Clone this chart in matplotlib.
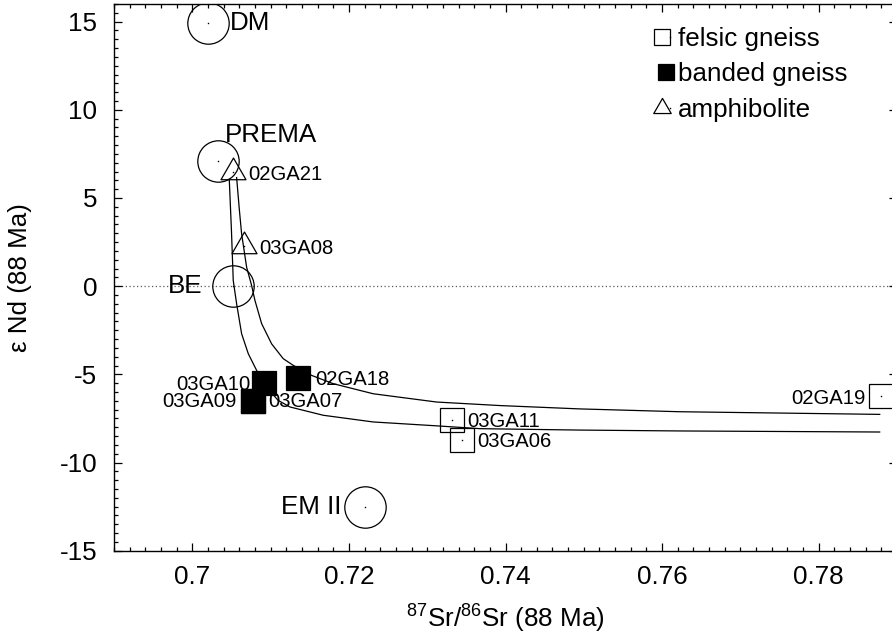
import matplotlib
matplotlib.use("Agg")
import matplotlib.pyplot as plt
from matplotlib.path import Path
from matplotlib.legend_handler import HandlerTuple
from matplotlib.ticker import MultipleLocator

plt.rcParams["font.family"] = ["Liberation Sans", "DejaVu Sans"]
plt.rcParams["mathtext.fontset"] = "custom"
plt.rcParams["mathtext.rm"] = "Liberation Sans"
plt.rcParams["mathtext.it"] = "Liberation Sans:italic"
plt.rcParams["axes.unicode_minus"] = False

# ---- data -------------------------------------------------------------
reservoir_names = ["DM", "PREMA", "BE", "EM II"]
reservoir_sr = [0.7020, 0.7033, 0.7052, 0.7220]
reservoir_nd = [14.9, 7.1, 0.0, -12.5]

felsic_names = ["03GA11", "03GA06", "02GA19"]
felsic_sr = [0.7332, 0.7344, 0.7880]
felsic_nd = [-7.6, -8.7, -6.25]

banded_names = ["03GA10", "02GA18", "03GA09", "03GA07"]
banded_sr = [0.7091, 0.7135, 0.7077, 0.7078]
banded_nd = [-5.5, -5.2, -6.5, -6.5]

amph_names = ["02GA21", "03GA08"]
amph_sr = [0.7052, 0.7066]
amph_nd = [6.5, 2.25]

# mixing curves
mixA_sr = [0.70566, 0.70602, 0.70630, 0.70694, 0.70758, 0.70800, 0.70886,
           0.71013, 0.71161, 0.71289, 0.71524, 0.71800, 0.72310, 0.73120,
           0.73928, 0.74949, 0.76226, 0.78779]
mixA_nd = [6.16, 4.28, 2.96, 1.07, 0.03, -0.81, -2.13,
           -3.27, -4.11, -4.49, -5.06, -5.53, -6.10, -6.57,
           -6.77, -6.96, -7.12, -7.27]
mixB_sr = [0.70472, 0.70500, 0.70523, 0.70566, 0.70630, 0.70715, 0.70822,
           0.70886, 0.70966, 0.71094, 0.71247, 0.71672, 0.72310, 0.73120,
           0.73673, 0.74949, 0.76226, 0.78779]
mixB_nd = [6.07, 3.15, 0.32, -1.00, -2.70, -3.83, -4.78,
           -5.25, -5.80, -6.47, -6.85, -7.32, -7.70, -7.92,
           -8.08, -8.16, -8.21, -8.27]

# ---- label placement (offsets in pixels, alignment) --------------------
reservoir_label_pos = {
    "DM": (22, 0, "left"),
    "PREMA": (7, 26, "left"),
    "BE": (-31, 0, "right"),
    "EM II": (-23, 0, "right"),
}
sample_label_pos = {
    "03GA11": (15, -1, "left"),
    "03GA06": (16, -2, "left"),
    "02GA19": (-16, -2, "right"),
    "03GA10": (-13, -1, "right"),
    "02GA18": (17, -2, "left"),
    "03GA09": (-16, -1, "right"),
    "03GA07": (15, -1, "left"),
    "02GA21": (15, -3, "left"),
    "03GA08": (15, -2, "left"),
}

BIG = 18.7
SMALL = 14.6

# triangle whose centroid sits on the data point
tri = Path([(0.0, 0.5774), (-0.5, -0.2887), (0.5, -0.2887), (0.0, 0.5774)],
           [Path.MOVETO, Path.LINETO, Path.LINETO, Path.CLOSEPOLY])

fig = plt.figure(figsize=(8.92, 6.37), dpi=100)
ax = fig.add_axes([114 / 892, 86.3 / 637, 783 / 892, 546.7 / 637])

ax.set_xlim(0.69, 0.79)
ax.set_ylim(-15, 16)

ax.axhline(0, color="0.35", lw=0.9, ls=(0, (1, 2)), zorder=1)

ax.plot(mixA_sr, mixA_nd, color="black", lw=0.9, zorder=2)
ax.plot(mixB_sr, mixB_nd, color="black", lw=0.9, zorder=2)

dot_kw = dict(ls="none", marker="s", ms=1.0, mec="none", mfc="black", zorder=5)

# reservoirs
ax.plot(reservoir_sr, reservoir_nd, ls="none", marker="o", ms=29.8,
        mfc="none", mec="black", mew=0.9, zorder=3)
ax.plot(reservoir_sr, reservoir_nd, **dot_kw)

# samples
ax.plot(felsic_sr, felsic_nd, ls="none", marker="s", ms=17.6,
        mfc="none", mec="black", mew=0.9, zorder=4)
ax.plot(felsic_sr, felsic_nd, **dot_kw)
ax.plot(banded_sr, banded_nd, ls="none", marker="s", ms=17.6,
        mfc="black", mec="black", mew=0.9, zorder=4)
ax.plot(amph_sr, amph_nd, ls="none", marker=tri, ms=20.8,
        mfc="none", mec="black", mew=0.9, zorder=4)
ax.plot(amph_sr, amph_nd, **dot_kw)

for name, x, y in zip(reservoir_names, reservoir_sr, reservoir_nd):
    dx, dy, ha = reservoir_label_pos[name]
    ax.annotate(name, (x, y), xytext=(dx, dy), textcoords="offset pixels",
                ha=ha, va="center", fontsize=BIG, zorder=3.5)

for names, xs, ys in ((felsic_names, felsic_sr, felsic_nd),
                      (banded_names, banded_sr, banded_nd),
                      (amph_names, amph_sr, amph_nd)):
    for name, x, y in zip(names, xs, ys):
        dx, dy, ha = sample_label_pos[name]
        ax.annotate(name, (x, y), xytext=(dx, dy), textcoords="offset pixels",
                    ha=ha, va="center", fontsize=SMALL, zorder=3.5)

# legend with small markers
lg_fel = ax.plot([], [], ls="none", marker="s", ms=12, mfc="none", mec="black", mew=0.9)[0]
lg_ban = ax.plot([], [], ls="none", marker="s", ms=12, mfc="black", mec="black", mew=0.9)[0]
lg_amp = ax.plot([], [], ls="none", marker=tri, ms=14.5, mfc="none", mec="black", mew=0.9)[0]
lg_dot = ax.plot([], [], ls="none", marker="s", ms=1.0, mec="none", mfc="black")[0]
ax.legend([(lg_fel, lg_dot), lg_ban, (lg_amp, lg_dot)],
          ["felsic gneiss", "banded gneiss", "amphibolite"],
          handler_map={tuple: HandlerTuple(ndivide=None, pad=0)},
          loc="upper left", bbox_to_anchor=(0.6948, 0.958),
          frameon=False, fontsize=BIG, borderpad=0, borderaxespad=0,
          handlelength=0.64, handletextpad=0.11, labelspacing=0.44)

# axes styling
ax.xaxis.set_minor_locator(MultipleLocator(0.002))
ax.yaxis.set_major_locator(MultipleLocator(5))
ax.yaxis.set_minor_locator(MultipleLocator(0.5))
ax.set_xticks([0.70, 0.72, 0.74, 0.76, 0.78])
ax.set_xticklabels(["0.7", "0.72", "0.74", "0.76", "0.78"])
ax.tick_params(which="both", direction="in", top=True, right=True,
               labelsize=BIG, width=0.9)
ax.tick_params(which="major", length=5.8)
ax.tick_params(which="minor", length=2.9)
ax.tick_params(axis="x", which="major", pad=10)
ax.tick_params(axis="y", which="major", pad=12)
for s in ax.spines.values():
    s.set_linewidth(1.0)

ax.set_xlabel(r"$^{87}$Sr/$^{86}$Sr (88 Ma)", fontsize=BIG, labelpad=10)
ax.set_ylabel("ε Nd (88 Ma)", fontsize=BIG, labelpad=20)

fig.savefig("out.png", dpi=100)
